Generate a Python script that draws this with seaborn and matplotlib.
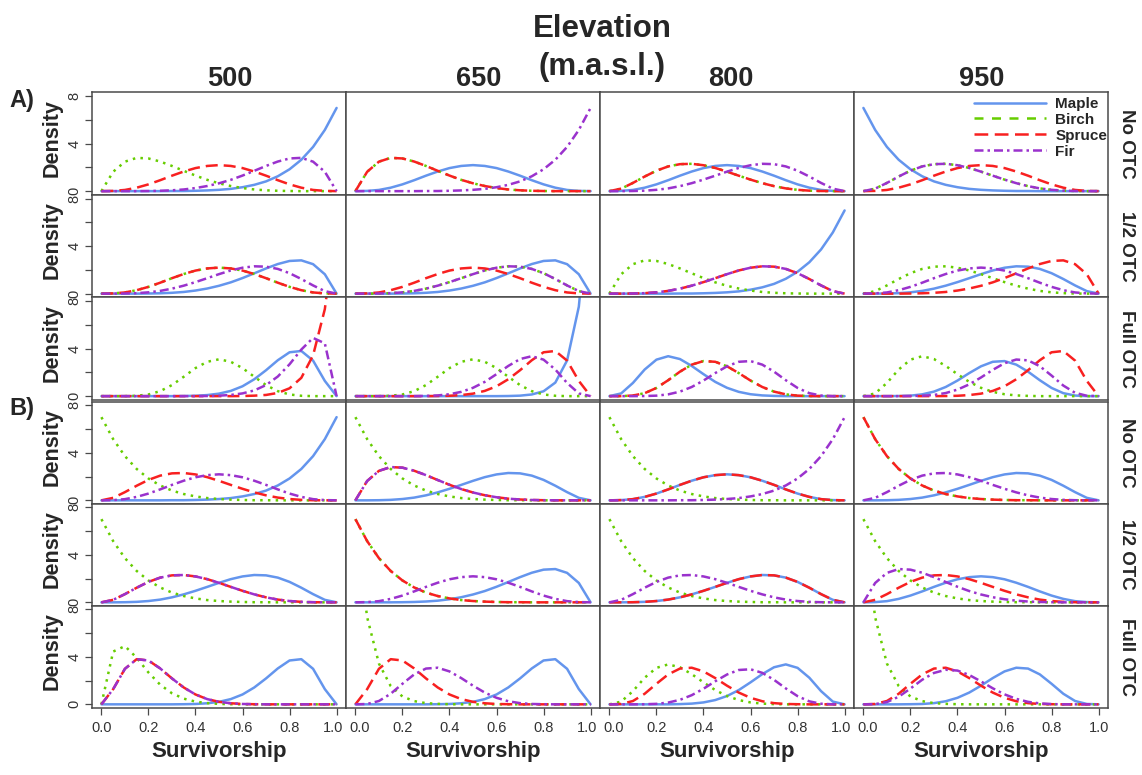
import pandas as pd
import matplotlib
matplotlib.use("Agg")
import matplotlib.pyplot as plt
from matplotlib.lines import Line2D
from matplotlib.transforms import ScaledTranslation
import seaborn as sns

SURV = [0.00, 0.05, 0.10, 0.15, 0.20, 0.25, 0.30, 0.35, 0.40, 0.45, 0.50,
        0.55, 0.60, 0.65, 0.70, 0.75, 0.80, 0.85, 0.90, 0.95, 1.00]

rise_j = [0, 0, 0, 0, 0, 0, 0.01, 0.01, 0.03, 0.06, 0.11, 0.19, 0.33, 0.53, 0.82, 1.25, 1.84, 2.64, 3.72, 5.15, 7.0]
fall_j = [7.0, 5.15, 3.72, 2.64, 1.84, 1.25, 0.82, 0.53, 0.33, 0.19, 0.11, 0.06, 0.03, 0.01, 0.01, 0, 0, 0, 0, 0, 0]
low_skew = [0, 1.63, 2.48, 2.80, 2.75, 2.49, 2.12, 1.71, 1.31, 0.95, 0.66, 0.43, 0.26, 0.14, 0.07, 0.03, 0.01, 0, 0, 0, 0]
high_skew = [0, 0, 0, 0, 0.01, 0.03, 0.07, 0.14, 0.26, 0.43, 0.66, 0.95, 1.31, 1.71, 2.12, 2.49, 2.75, 2.80, 2.48, 1.63, 0]
low_mid = [0, 0.21, 0.69, 1.23, 1.72, 2.08, 2.27, 2.30, 2.18, 1.95, 1.64, 1.30, 0.97, 0.67, 0.42, 0.23, 0.11, 0.04, 0.01, 0, 0]
high_mid = [0, 0, 0.01, 0.04, 0.11, 0.23, 0.42, 0.67, 0.97, 1.30, 1.64, 1.95, 2.18, 2.30, 2.27, 2.08, 1.72, 1.23, 0.69, 0.21, 0]
centre = [0, 0.02, 0.10, 0.29, 0.57, 0.92, 1.30, 1.65, 1.94, 2.12, 2.19, 2.12, 1.94, 1.65, 1.30, 0.92, 0.57, 0.29, 0.10, 0.02, 0]
centre_narrow = [0, 0, 0, 0.03, 0.14, 0.42, 0.93, 1.63, 2.36, 2.89, 3.10, 2.89, 2.36, 1.63, 0.93, 0.42, 0.14, 0.03, 0, 0, 0]
peak_83 = [0, 0, 0, 0, 0, 0, 0, 0.01, 0.03, 0.09, 0.21, 0.44, 0.83, 1.42, 2.18, 3.02, 3.69, 3.80, 2.99, 1.28, 0]
peak_17 = [0, 1.28, 2.99, 3.80, 3.69, 3.02, 2.18, 1.42, 0.83, 0.44, 0.21, 0.09, 0.03, 0.01, 0, 0, 0, 0, 0, 0, 0]
peak_92 = [0, 0, 0, 0, 0, 0, 0, 0, 0, 0.01, 0.04, 0.10, 0.23, 0.48, 0.93, 1.65, 2.68, 3.92, 4.90, 4.44, 0]
peak_08 = [0, 4.44, 4.90, 3.92, 2.68, 1.65, 0.93, 0.48, 0.23, 0.10, 0.04, 0.01, 0, 0, 0, 0, 0, 0, 0, 0, 0]
spike_hi = [0, 0, 0, 0, 0, 0, 0, 0, 0, 0, 0, 0, 0.01, 0.04, 0.10, 0.27, 0.66, 1.54, 3.43, 7.32, 15.0]
spike_lo = [15.0, 7.32, 3.43, 1.54, 0.66, 0.27, 0.10, 0.04, 0.01, 0, 0, 0, 0, 0, 0, 0, 0, 0, 0, 0, 0]
spike_max = [0, 0, 0, 0, 0, 0, 0, 0, 0, 0, 0, 0, 0, 0.01, 0.04, 0.14, 0.41, 1.14, 3.00, 7.53, 18.0]
peak_75 = [0, 0, 0, 0, 0, 0, 0.02, 0.06, 0.16, 0.36, 0.70, 1.20, 1.85, 2.54, 3.12, 3.36, 3.07, 2.24, 1.11, 0.23, 0]
peak_25 = [0, 0.23, 1.11, 2.24, 3.07, 3.36, 3.12, 2.54, 1.85, 1.20, 0.70, 0.36, 0.16, 0.06, 0.02, 0, 0, 0, 0, 0, 0]
peak_42 = [0, 0, 0.05, 0.25, 0.69, 1.34, 2.06, 2.65, 2.95, 2.89, 2.51, 1.94, 1.31, 0.77, 0.38, 0.15, 0.04, 0.01, 0, 0, 0]
peak_58 = [0, 0, 0, 0.01, 0.04, 0.15, 0.38, 0.77, 1.31, 1.94, 2.51, 2.89, 2.95, 2.65, 2.06, 1.34, 0.69, 0.25, 0.05, 0, 0]
peak_67 = [0, 0, 0, 0, 0.01, 0.03, 0.10, 0.26, 0.55, 0.99, 1.57, 2.21, 2.77, 3.08, 3.01, 2.52, 1.73, 0.89, 0.28, 0.03, 0]
peak_33 = [0, 0.03, 0.28, 0.89, 1.73, 2.52, 3.01, 3.08, 2.77, 2.21, 1.57, 0.99, 0.55, 0.26, 0.10, 0.03, 0.01, 0, 0, 0, 0]
peak_36 = [0, 0.02, 0.19, 0.64, 1.33, 2.07, 2.64, 2.91, 2.84, 2.47, 1.93, 1.35, 0.84, 0.46, 0.21, 0.08, 0.02, 0, 0, 0, 0]

SPECIES = ["Maple", "Birch", "Spruce", "Fir"]
ELEVATIONS = ["500", "650", "800", "950"]
TREATMENTS = ["No OTC", "1/2 OTC", "Full OTC"]
BLOCKS = ["A)", "B)"]

# one entry per row (block, treatment); inside: per elevation (Maple, Birch, Spruce, Fir)
ROWS = [
    ("A)", "No OTC", [(rise_j, low_skew, centre, high_skew),
                      (centre, low_skew, low_skew, rise_j),
                      (centre, low_mid, low_mid, high_mid),
                      (fall_j, low_mid, centre, low_mid)]),
    ("A)", "1/2 OTC", [(high_skew, centre, centre, high_mid),
                       (high_skew, high_mid, centre, high_mid),
                       (rise_j, low_skew, high_mid, high_mid),
                       (high_mid, low_mid, high_skew, centre)]),
    ("A)", "Full OTC", [(peak_83, centre_narrow, spike_hi, peak_92),
                        (spike_max, centre_narrow, peak_83, peak_75),
                        (peak_25, peak_42, peak_42, peak_58),
                        (peak_58, peak_25, peak_83, peak_67)]),
    ("B)", "No OTC", [(rise_j, fall_j, low_mid, centre),
                      (high_mid, fall_j, low_skew, low_skew),
                      (centre, fall_j, centre, rise_j),
                      (high_mid, fall_j, fall_j, low_mid)]),
    ("B)", "1/2 OTC", [(high_mid, fall_j, low_mid, low_mid),
                       (high_skew, fall_j, fall_j, centre),
                       (high_mid, fall_j, high_mid, low_mid),
                       (centre, fall_j, low_mid, low_skew)]),
    ("B)", "Full OTC", [(peak_83, peak_08, peak_17, peak_17),
                        (peak_83, spike_lo, peak_17, peak_33),
                        (peak_75, peak_25, peak_33, peak_58),
                        (peak_67, spike_lo, peak_33, peak_36)]),
]

XTICKS = [0.0, 0.2, 0.4, 0.6, 0.8, 1.0]
XTICK_LABELS = ["0.0", "0.2", "0.4", "0.6", "0.8", "1.0"]
YTICKS = [0, 2, 4, 6, 8]
YTICK_LABELS = ["0", "", "4", "", "8"]
# -----------------------------------------------------------------------------

COLORS = {"Maple": "#6495ED", "Birch": "#66CD00", "Spruce": "#F82020", "Fir": "#9A32CD"}
DASHES = {"Maple": "", "Birch": (1, 2.1), "Spruce": (4.8, 2.4), "Fir": (3.6, 1.6, 1, 1.6)}
LEGEND_DASHES = {"Maple": "", "Birch": (3.6, 3.4), "Spruce": (5.5, 2.6), "Fir": (3.6, 1.6, 1, 1.6)}

W, H = 1142, 775
COL_LEFT = [92, 346, 600, 854]
ROW_TOP = [92.5, 195.0, 297.5, 401.7, 503.7, 605.7]
PANEL_W, PANEL_H = 254, 102.2
EDGE = "#4a4a4a"

sns.set_style("white")
plt.rcParams["font.family"] = ["Liberation Sans", "DejaVu Sans"]


def fx(x):
    return x / W


def fy(y):
    return 1 - y / H


def panel_frame(curves):
    rows = []
    for name, vals in zip(SPECIES, curves):
        for s, d in zip(SURV, vals):
            rows.append((s, d, name))
    return pd.DataFrame(rows, columns=["survivorship", "density", "species"])


fig = plt.figure(figsize=(W / 100, H / 100), dpi=100)

for r, (block, treatment, panels) in enumerate(ROWS):
    for c, curves in enumerate(panels):
        ax = fig.add_axes([fx(COL_LEFT[c]), fy(ROW_TOP[r] + PANEL_H), fx(PANEL_W), PANEL_H / H])
        sns.lineplot(data=panel_frame(curves), x="survivorship", y="density",
                     hue="species", style="species", hue_order=SPECIES, style_order=SPECIES,
                     palette=COLORS, dashes=DASHES, linewidth=1.8, errorbar=None,
                     legend=False, ax=ax)
        ax.set_xlim(-0.04, 1.04)
        ax.set_ylim(-0.3, 8.3)
        ax.set_xlabel("")
        ax.set_ylabel("")
        for sp in ax.spines.values():
            sp.set_visible(True)
            sp.set_color(EDGE)
            sp.set_linewidth(1.1)

        if c == 0:
            ax.set_yticks(YTICKS)
            ax.set_yticklabels(YTICK_LABELS, rotation=90, va="center")
            ax.tick_params(axis="y", left=True, length=5, width=0.9, color=EDGE,
                           pad=2.5, labelsize=10.5, labelcolor="#333333")
        else:
            ax.set_yticks([])
        if r == len(ROWS) - 1:
            ax.set_xticks(XTICKS)
            ax.set_xticklabels(XTICK_LABELS)
            ax.tick_params(axis="x", bottom=True, length=5, width=0.9, color=EDGE,
                           pad=4.5, labelsize=10.5, labelcolor="#333333")
            # nudge the end labels apart where neighbouring panels meet
            for lab in ax.get_xticklabels():
                if lab.get_text() == "1.0" and c < 3:
                    lab.set_transform(lab.get_transform() + ScaledTranslation(-0.04, 0, fig.dpi_scale_trans))
                if lab.get_text() == "0.0" and c > 0:
                    lab.set_transform(lab.get_transform() + ScaledTranslation(0.04, 0, fig.dpi_scale_trans))
        else:
            ax.set_xticks([])

        # legend lives in the top-right panel
        if r == 0 and c == 3:
            handles = [Line2D([], [], color=COLORS[s], lw=1.8,
                              dashes=LEGEND_DASHES[s] if LEGEND_DASHES[s] else (None, None))
                       for s in SPECIES]
            ax.legend(handles, SPECIES, loc="upper right",
                      bbox_to_anchor=(fx(1107), fy(97)), bbox_transform=fig.transFigure,
                      frameon=False, prop={"size": 11, "weight": "bold"},
                      handlelength=4.7, handletextpad=0.6, labelspacing=0.12,
                      borderpad=0, borderaxespad=0)

    # row annotations
    yc = ROW_TOP[r] + PANEL_H / 2
    fig.text(fx(52), fy(yc - 6), "Density", rotation=90, ha="center", va="center",
             fontsize=15.5, fontweight="bold")
    fig.text(fx(1126), fy(yc), treatment, rotation=-90, ha="center", va="center",
             fontsize=13.5, fontweight="bold")

fig.text(fx(22), fy(100), BLOCKS[0], ha="center", va="center", fontsize=17, fontweight="bold")
fig.text(fx(22), fy(408), BLOCKS[1], ha="center", va="center", fontsize=17, fontweight="bold")

fig.text(fx(602), fy(37), "Elevation", ha="center", va="baseline", fontsize=22.5, fontweight="bold")
fig.text(fx(602), fy(75), "(m.a.s.l.)", ha="center", va="baseline", fontsize=22.5, fontweight="bold")
for x, lab in zip([230, 479, 731, 982], ELEVATIONS):
    fig.text(fx(x), fy(86), lab, ha="center", va="baseline", fontsize=19.5, fontweight="bold")

for c in range(4):
    xc = COL_LEFT[c] + PANEL_W / 2
    fig.text(fx(xc), fy(757), "Survivorship", ha="center", va="baseline",
             fontsize=16, fontweight="bold")

fig.savefig("out.png", dpi=100)
